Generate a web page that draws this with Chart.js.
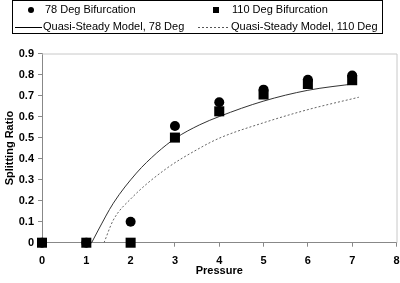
<!DOCTYPE html>
<html>
<head>
<meta charset="utf-8">
<script src="https://cdn.jsdelivr.net/npm/chart.js@4.4.0/dist/chart.umd.min.js"></script>
<style>
  html, body { margin: 0; padding: 0; background: #fff; }
  #wrap { width: 400px; height: 283px; position: relative; }
</style>
</head>
<body>
<div id="wrap"><canvas id="chart"></canvas></div>
<script>
// measured points
const pressure = [0, 1, 2, 3, 4, 5, 6, 7];
const ratio78 = [0, 0, 0.1, 0.555, 0.668, 0.728, 0.775, 0.795];
const ratio110 = [0, 0, 0, 0.5, 0.625, 0.705, 0.755, 0.773];

// quasi-steady model curves
const model78X = [1.12, 1.27, 1.61, 2.13, 2.59, 3.02, 3.56, 4.01, 4.99, 6.0, 7.09];
const model78Y = [0, 0.06, 0.188, 0.331, 0.427, 0.498, 0.561, 0.601, 0.673, 0.725, 0.757];
const model110X = [1.40, 1.61, 2.02, 2.77, 3.56, 4.01, 4.99, 6.0, 7.15];
const model110Y = [0, 0.108, 0.212, 0.347, 0.45, 0.498, 0.57, 0.633, 0.692];

const xTicks = [0, 1, 2, 3, 4, 5, 6, 7, 8];
const yTicks = [0, 0.1, 0.2, 0.3, 0.4, 0.5, 0.6, 0.7, 0.8, 0.9];

const legendLabels = ["78 Deg Bifurcation", "110 Deg Bifurcation",
  "Quasi-Steady Model, 78 Deg", "Quasi-Steady Model, 110 Deg"];

function toXY(xs, ys) {
  return xs.map((x, i) => ({ x: x, y: ys[i] }));
}

const FONT = "'Liberation Sans', Arial, sans-serif";

// legend box + light top/right frame
const boxPlugin = {
  id: "boxPlugin",
  beforeDatasetsDraw(chart) {
    const ctx = chart.ctx;
    const a = chart.chartArea;
    ctx.save();
    ctx.strokeStyle = "#c8c8c8";
    ctx.lineWidth = 1;
    ctx.beginPath();
    ctx.moveTo(a.left, a.top + 0.5);
    ctx.lineTo(a.right + 0.5, a.top + 0.5);
    ctx.lineTo(a.right + 0.5, a.bottom);
    ctx.stroke();
    ctx.restore();
  },
  afterDraw(chart) {
    const ctx = chart.ctx;
    ctx.save();
    ctx.strokeStyle = "#000";
    ctx.lineWidth = 1;
    ctx.strokeRect(12.5, 0.5, 370, 33);
    ctx.font = "11px " + FONT;
    ctx.fillStyle = "#000";
    ctx.textBaseline = "middle";
    ctx.textAlign = "left";
    ctx.beginPath();
    ctx.arc(31, 10, 3, 0, Math.PI * 2);
    ctx.fill();
    ctx.fillRect(213, 7, 6, 6);
    ctx.fillText(legendLabels[0], 45, 10);
    ctx.fillText(legendLabels[1], 232, 10);

    ctx.beginPath();
    ctx.moveTo(15, 27.5);
    ctx.lineTo(42, 27.5);
    ctx.stroke();
    ctx.setLineDash([2, 2]);
    ctx.strokeStyle = "#555";
    ctx.beginPath();
    ctx.moveTo(198, 27.5);
    ctx.lineTo(229, 27.5);
    ctx.stroke();
    ctx.setLineDash([]);
    ctx.fillText(legendLabels[2], 43, 27);
    ctx.fillText(legendLabels[3], 231, 27);
    ctx.restore();
  }
};

new Chart(document.getElementById("chart"), {
  type: "scatter",
  data: {
    datasets: [
      {
        label: legendLabels[0],
        data: toXY(pressure, ratio78),
        pointStyle: "circle",
        pointRadius: 5,
        backgroundColor: "#000",
        borderColor: "#000",
        borderWidth: 0,
        clip: false,
        order: 2
      },
      {
        label: legendLabels[1],
        data: toXY(pressure, ratio110),
        pointStyle: "rect",
        pointRadius: 7.1,
        backgroundColor: "#000",
        borderColor: "#000",
        borderWidth: 0,
        clip: false,
        order: 1
      },
      {
        label: legendLabels[2],
        data: toXY(model78X, model78Y),
        showLine: true,
        pointRadius: 0,
        borderColor: "#333",
        borderWidth: 1,
        cubicInterpolationMode: "monotone",
        order: 3
      },
      {
        label: legendLabels[3],
        data: toXY(model110X, model110Y),
        showLine: true,
        pointRadius: 0,
        borderColor: "#666",
        borderWidth: 1,
        borderDash: [2, 2],
        cubicInterpolationMode: "monotone",
        order: 4
      }
    ]
  },
  options: {
    responsive: true,
    maintainAspectRatio: false,
    animation: false,
    layout: { autoPadding: false, padding: { top: 53.5, right: 3.5, left: 0, bottom: 0 } },
    plugins: {
      legend: { display: false },
      tooltip: { enabled: false }
    },
    scales: {
      x: {
        type: "linear",
        min: 0,
        max: 8,
        afterBuildTicks: (s) => { s.ticks = xTicks.map(v => ({ value: v })); },
        afterFit: (s) => {
          s.height = 40.3;
          s.paddingRight = 0;
          s.paddingLeft = 0;
        },
        grid: { drawOnChartArea: false, tickLength: 4, color: "#888" },
        border: { color: "#888" },
        ticks: {
          color: "#000",
          padding: 8,
          maxRotation: 0,
          font: { family: FONT, size: 11, weight: "bold" }
        },
        title: {
          display: true,
          text: "Pressure",
          color: "#000",
          padding: { top: 0, bottom: 5 },
          font: { family: FONT, size: 11, weight: "bold" }
        }
      },
      y: {
        min: 0,
        max: 0.9,
        afterBuildTicks: (s) => { s.ticks = yTicks.map(v => ({ value: v })); },
        afterFit: (s) => { s.width = 42; },
        grid: { drawOnChartArea: false, tickLength: 4, color: "#888" },
        border: { color: "#888" },
        ticks: {
          color: "#000",
          padding: 4,
          font: { family: FONT, size: 11, weight: "bold" },
          callback: (v) => String(Math.round(v * 10) / 10)
        },
        title: {
          display: true,
          text: "Splitting Ratio",
          color: "#000",
          padding: { top: 3, bottom: 0 },
          font: { family: FONT, size: 11, weight: "bold" }
        }
      }
    }
  },
  plugins: [boxPlugin]
});
</script>
</body>
</html>
